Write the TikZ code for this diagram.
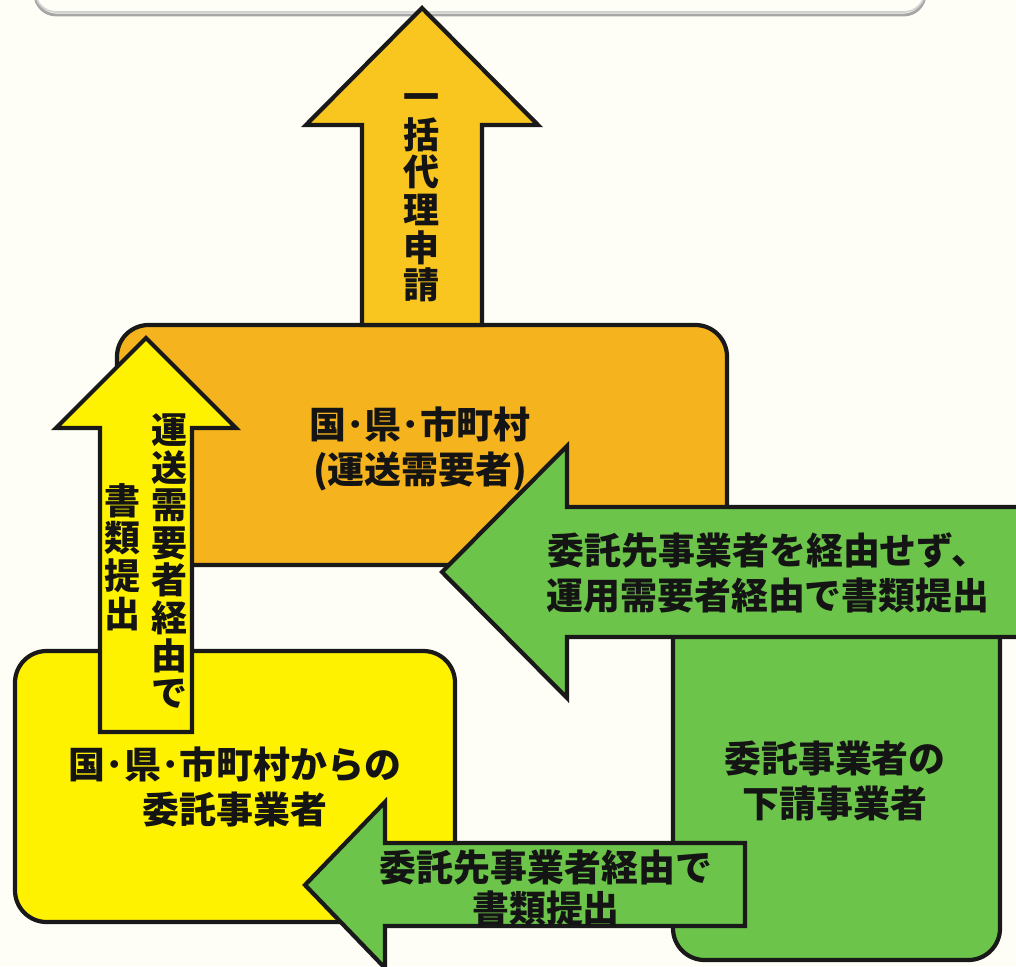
\documentclass[tikz,border=0pt]{standalone}
\usepackage{fontspec}
\setmainfont{Noto Sans CJK JP}
\definecolor{paper}{HTML}{FEFEF7}
\definecolor{kenorange}{HTML}{F5B41E}
\definecolor{arroworange}{HTML}{F8C61F}
\definecolor{kenyellow}{HTML}{FFF200}
\definecolor{kengreen}{HTML}{6CC44A}
\tikzstyle{outline}=[draw=black!90, line width=2.4pt, line join=miter]
\tikzstyle{box}=[outline, rounded corners=18pt]
\tikzstyle{label}=[inner sep=0pt, align=center, text=black!92, font=\bfseries\fontsize{21}{25.5}\selectfont]
\tikzstyle{vlabel}=[inner sep=0pt, align=center, text=black!92, font=\bfseries\fontsize{20.5}{21.4}\selectfont]

\begin{document}
\begin{tikzpicture}[x=0.02cm,y=-0.02cm]
    \useasboundingbox (0,0) rectangle (1016,966);
    \clip (0,0) rectangle (1016,966);
    \fill[paper] (0,0) rectangle (1016,966);

    % Frame at the top
    \draw[gray!70, line width=1.6pt, rounded corners=12pt] (35,-60) rectangle (925,15);
    \draw[gray!35, line width=1pt, rounded corners=12pt] (35,-60) rectangle (925,12);

    % Boxes
    \draw[box, fill=kenorange] (117,325) rectangle (727,565);
    \draw[box, fill=kenyellow] (15,651) rectangle (455,922);
    \draw[box, fill=kengreen] (673,560) rectangle (1000,960);

    % Arrows
    \draw[outline, fill=arroworange] (362,325) -- (362,125) -- (306,125) -- (422,8)
        -- (538,125) -- (482,125) -- (482,325) -- cycle;
    \draw[outline, fill=kenyellow] (100,732) -- (100,428) -- (56,428) -- (146,338)
        -- (236,428) -- (192,428) -- (192,732) -- cycle;
    \draw[outline, fill=kengreen] (1030,507) -- (567,507) -- (567,446) -- (442,572)
        -- (567,698) -- (567,637) -- (1030,637);
    \draw[outline, fill=kengreen] (745,843) -- (385,843) -- (385,802) -- (305,885)
        -- (385,968) -- (385,926) -- (745,926) -- cycle;

    % Labels
    \draw (422,198) node[vlabel] (apply) {一\\括\\代\\理\\申\\請};
    \draw (420,449) node[label] (kuni) {国･県･市町村\\(運送需要者)};
    \draw (170,561) node[vlabel] (via) {運\\送\\需\\要\\者\\経\\由\\で};
    \draw (123,557) node[vlabel] (submit) {書\\類\\提\\出};
    \draw (768,573) node[label] (direct) {委託先事業者を経由せず、\\運用需要者経由で書類提出};
    \draw (235,787) node[label] (itaku) {国･県･市町村からの\\委託事業者};
    \draw (835,781) node[label] (shita) {委託事業者の\\下請事業者};
    \draw (546,888) node[label, font=\bfseries\fontsize{21}{23.5}\selectfont] (through) {委託先事業者経由で\\書類提出};
\end{tikzpicture}
\end{document}
